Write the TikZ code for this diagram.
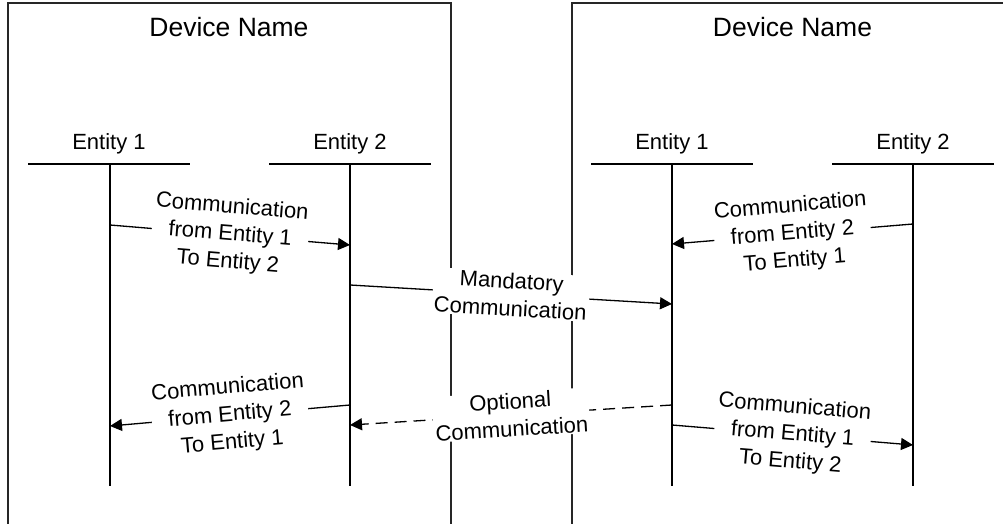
\documentclass[tikz,border=0pt]{standalone}
\usepackage{fontspec}
\setmainfont{Liberation Sans}
\usetikzlibrary{arrows.meta}
\tikzset{
  frame/.style={line width=1.2pt, draw=black!85},
  life/.style={line width=1.3pt},
  devname/.style={font=\fontsize{26.5}{30}\selectfont, anchor=base},
  entname/.style={font=\fontsize{22}{26}\selectfont, anchor=base},
  msg/.style={line width=1.3pt, -{Triangle[length=12pt,width=12pt]}},
  optmsg/.style={msg, dash pattern=on 12pt off 7pt},
  msglabel/.style={font=\fontsize{22}{27.5}\selectfont, align=center, fill=white,
    inner xsep=2pt, inner ysep=1pt, sloped, midway},
}
\begin{document}
\begin{tikzpicture}[x=1pt,y=-1pt]
\useasboundingbox (0,0) rectangle (1003,524);
% device frames
\draw[frame] (8,524) -- (8,3) -- (451,3) -- (451,524);
\draw[frame] (572,524) -- (572,3) -- (1003,3);
\node[devname] (dev1) at (229,37) {Device Name};
\node[devname] (dev2) at (792.5,37) {Device Name};
% entities of device 1
\node[entname] (a1) at (109,149) {Entity 1};
\node[entname] (a2) at (350,149) {Entity 2};
% entities of device 2
\node[entname] (b1) at (672,149) {Entity 1};
\node[entname] (b2) at (913,149) {Entity 2};
% header lines
\draw[life] (28,164) -- (190,164);
\draw[life] (269,164) -- (431,164);
\draw[life] (591,164) -- (753,164);
\draw[life] (832,164) -- (994,164);
% lifelines
\coordinate (a1t) at (110,164); \coordinate (a1b) at (110,486);
\coordinate (a2t) at (350,164); \coordinate (a2b) at (350,486);
\coordinate (b1t) at (672,164); \coordinate (b1b) at (672,486);
\coordinate (b2t) at (913,164); \coordinate (b2b) at (913,486);
\draw[life] (a1t) -- (a1b);
\draw[life] (a2t) -- (a2b);
\draw[life] (b1t) -- (b1b);
\draw[life] (b2t) -- (b2b);
% message end points
\coordinate (m1s) at (110,225); \coordinate (m1e) at (350,245);
\coordinate (m2s) at (350,285); \coordinate (m2e) at (672,304);
\coordinate (m3s) at (350,405); \coordinate (m3e) at (110,426);
\coordinate (m4s) at (672,405); \coordinate (m4e) at (350,425);
\coordinate (m5s) at (913,224); \coordinate (m5e) at (672,244);
\coordinate (m6s) at (672,425); \coordinate (m6e) at (913,445);
% messages
\draw[msg] (m1s) -- node[msglabel] {Communication\\from Entity 1\\To Entity 2} (m1e);
\draw[msg] (m2s) -- node[msglabel] {Mandatory\\Communication} (m2e);
\draw[msg] (m3s) -- node[msglabel] {Communication\\from Entity 2\\To Entity 1} (m3e);
\draw[optmsg] (m4s) -- node[msglabel] {Optional\\Communication} (m4e);
\draw[msg] (m5s) -- node[msglabel] {Communication\\from Entity 2\\To Entity 1} (m5e);
\draw[msg] (m6s) -- node[msglabel] {Communication\\from Entity 1\\To Entity 2} (m6e);
\end{tikzpicture}
\end{document}
